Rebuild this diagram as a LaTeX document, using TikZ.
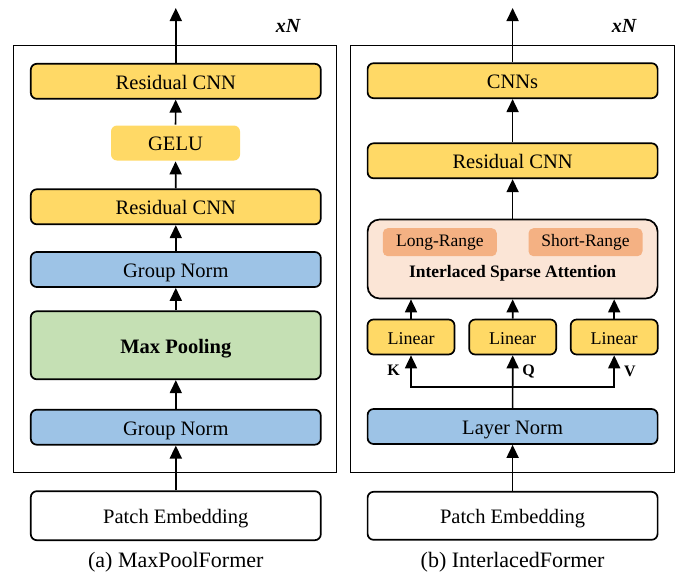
\documentclass[tikz,border=0pt]{standalone}
\usepackage{fontspec}
\setmainfont{Liberation Serif}
\usetikzlibrary{arrows.meta, positioning}

\definecolor{cnnyellow}{HTML}{FFD966}
\definecolor{normblue}{HTML}{9DC3E6}
\definecolor{poolgreen}{HTML}{C5E0B4}
\definecolor{attnpeach}{HTML}{FBE5D6}
\definecolor{rangeorange}{HTML}{F4B183}

\begin{document}
\begin{tikzpicture}[
    x=1pt, y=-1pt,
    ->,
    >={Triangle[length=13pt, width=12pt]},
    line width=1.7pt,
    block/.style={draw, rounded corners=6pt, inner sep=0pt, minimum height=35pt,
        text height=15.8pt, text depth=0pt,
        font=\fontsize{20.5}{24}\selectfont},
    wide/.style={block, minimum width=290pt},
    yellowbox/.style={wide, fill=cnnyellow},
    bluebox/.style={wide, fill=normblue},
    linbox/.style={block, fill=cnnyellow, minimum width=87pt, text height=14.5pt,
        font=\fontsize{18}{22}\selectfont},
    rangebox/.style={fill=rangeorange, rounded corners=5pt, minimum width=114pt,
        minimum height=28pt, inner sep=0pt, font=\fontsize{17.5}{21}\selectfont},
    frame/.style={draw, -, line width=1pt},
    caption/.style={font=\fontsize{22}{26}\selectfont},
    qkv/.style={font=\fontsize{16}{19}\selectfont\bfseries},
    times/.style={font=\fontsize{20}{22}\selectfont\bfseries\itshape}
]
\useasboundingbox (0,0) rectangle (678,573);

% --- Frames ---
\draw[frame] (13.3,45.7) rectangle (336.7,472.7);
\draw[frame] (350.7,45.7) rectangle (674,472.7);
\node[times] (repL) at (288,26) {xN};
\node[times] (repR) at (624,26) {xN};

% --- (a) MaxPoolFormer ---
\node[yellowbox] (rcnnA) at (175.8,81.3) {Residual CNN};
\node[block, fill=cnnyellow, draw=none, minimum width=129pt] (gelu) at (175.5,143) {GELU};
\node[yellowbox] (rcnnB) at (175.8,206.8) {Residual CNN};
\node[bluebox] (gnA) at (175.8,269.5) {Group Norm};
\node[wide, fill=poolgreen, minimum height=68pt] (pool) at (175.8,345.3) {\textbf{Max Pooling}};
\node[bluebox] (gnB) at (175.8,427.2) {Group Norm};
\node[wide, fill=white, minimum height=49pt] (embA) at (175.8,515.7) {Patch Embedding};
\node[caption] (capA) at (175.8,562) {(a) MaxPoolFormer};
\coordinate (outA) at (175.8,8);

\draw (embA) -- (gnB);
\draw (gnB) -- (pool);
\draw (pool) -- (gnA);
\draw (gnA) -- (rcnnB);
\draw (rcnnB) -- (gelu);
\draw (gelu) -- (rcnnA);
\draw (rcnnA) -- (outA);

% --- (b) InterlacedFormer ---
\node[yellowbox] (cnns) at (512.6,80.7) {CNNs};
\node[yellowbox] (rcnnC) at (512.6,160.8) {Residual CNN};
\node[wide, fill=attnpeach, minimum height=79pt, rounded corners=12pt] (attn) at (512.6,259) {};
\node[rangebox] (longr) at (439.8,242.2) {Long-Range};
\node[rangebox] (shortr) at (585.5,242.2) {Short-Range};
\node[font=\fontsize{17.5}{21}\selectfont\bfseries] (attnlbl) at (512.6,273) {Interlaced Sparse Attention};
\node[linbox] (linK) at (411,337) {Linear};
\node[linbox] (linQ) at (512.7,337) {Linear};
\node[linbox] (linV) at (614.2,337) {Linear};
\node[bluebox] (ln) at (512.6,426.5) {Layer Norm};
\node[wide, fill=white, minimum height=48pt] (embB) at (512.6,515.8) {Patch Embedding};
\node[caption] (capB) at (512.6,562) {(b) InterlacedFormer};
\coordinate (split) at (512.7,386.7);
\coordinate (outB) at (512.6,8);

\draw (embB) -- (ln);
\draw (ln) -- (linQ);
\draw (split) -| (linK);
\draw (split) -| (linV);
\draw (linK) -- (linK |- attn.south);
\draw (linQ) -- (attn);
\draw (linV) -- (linV |- attn.south);
\draw (attn) -- (rcnnC);
\draw (rcnnC) -- (cnns);
\draw (cnns) -- (outB);

% --- Labels ---
\node[qkv] (kl) at (393.5,370.5) {K};
\node[qkv] (ql) at (528.5,371) {Q};
\node[qkv] (vl) at (630,371) {V};

\end{tikzpicture}
\end{document}
